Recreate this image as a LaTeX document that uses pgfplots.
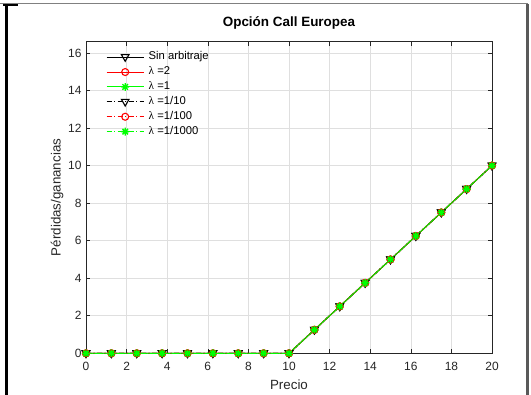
\documentclass[border=0pt]{standalone}
\usepackage{fontspec}
\setmainfont{Liberation Sans}
\newfontfamily\lamfont{Liberation Serif}
\usepackage{pgfplots}
\usepackage{pgfplotstable}
\pgfplotsset{compat=1.18}

\definecolor{axgray}{rgb}{0.15,0.15,0.15}
\definecolor{gridgray}{RGB}{223,223,223}
\definecolor{mgreen}{rgb}{0,1,0}
\definecolor{mred}{rgb}{1,0,0}

% eight-armed asterisk
\pgfdeclareplotmark{mstar}{%
  \pgfpathmoveto{\pgfqpoint{-\pgfplotmarksize}{0pt}}\pgfpathlineto{\pgfqpoint{\pgfplotmarksize}{0pt}}%
  \pgfpathmoveto{\pgfqpoint{0pt}{-\pgfplotmarksize}}\pgfpathlineto{\pgfqpoint{0pt}{\pgfplotmarksize}}%
  \pgfpathmoveto{\pgfqpoint{-0.7071\pgfplotmarksize}{-0.7071\pgfplotmarksize}}\pgfpathlineto{\pgfqpoint{0.7071\pgfplotmarksize}{0.7071\pgfplotmarksize}}%
  \pgfpathmoveto{\pgfqpoint{-0.7071\pgfplotmarksize}{0.7071\pgfplotmarksize}}\pgfpathlineto{\pgfqpoint{0.7071\pgfplotmarksize}{-0.7071\pgfplotmarksize}}%
  \pgfusepathqstroke}
% downward triangle
\pgfdeclareplotmark{vtri}{%
  \pgfpathmoveto{\pgfqpoint{0pt}{-\pgfplotmarksize}}%
  \pgfpathlineto{\pgfqpoint{0.9\pgfplotmarksize}{0.6\pgfplotmarksize}}%
  \pgfpathlineto{\pgfqpoint{-0.9\pgfplotmarksize}{0.6\pgfplotmarksize}}%
  \pgfpathclose\pgfusepathqstroke}

% payoff of the call, strike 10
\pgfplotstableread{
x      y
0      0
1.25   0
2.5    0
3.75   0
5      0
6.25   0
7.5    0
8.75   0
10     0
11.25  1.25
12.5   2.5
13.75  3.75
15     5
16.25  6.25
17.5   7.5
18.75  8.75
20     10
}\payoff

\begin{document}
\begin{tikzpicture}
\useasboundingbox (0,0) rectangle (531bp,395bp);
\fill[white] (0,0) rectangle (531bp,395bp);
% frame
\draw[gray, line width=1bp] (0,391bp) -- (528bp,391bp);
\draw[black!65, line width=2.5bp] (527.5bp,391bp) -- (527.5bp,0);
\draw[black, line width=2bp] (3bp,390bp) -- (18bp,390bp);
\draw[black, line width=3bp] (6.5bp,390bp) -- (6.5bp,0);

\begin{axis}[
  at={(86bp,41.7bp)}, anchor=south west,
  scale only axis, width=406bp, height=311.6bp,
  xmin=0, xmax=20, ymin=0, ymax=16.6,
  xtick={0,2,...,20}, ytick={0,2,...,16},
  tick align=inside, tick pos=both,
  major tick length=4bp,
  grid=major,
  major grid style={gridgray, line width=0.6bp},
  axis line style={axgray, line width=0.6bp},
  every tick/.style={axgray, line width=0.6bp},
  /pgf/number format/assume math mode=true,
  ticklabel style={font=\fontsize{12}{12}\selectfont, text=axgray},
  xticklabel style={yshift=-5bp},
  yticklabel style={xshift=-1bp},
  title={\textbf{Opción Call Europea}},
  title style={font=\fontsize{13.5}{13.5}\selectfont, at={(axis description cs:0.5,1)}, anchor=center, yshift=13bp},
  xlabel={Precio},
  xlabel style={font=\fontsize{13.4}{13.4}\selectfont, text=axgray, at={(axis description cs:0.5,0)}, anchor=center, yshift=-31.7bp},
  ylabel={Pérdidas/ganancias},
  ylabel style={font=\fontsize{13.4}{13.4}\selectfont, text=axgray, at={(axis description cs:0,0.5)}, anchor=center, yshift=29bp},
  legend image code/.code={\draw[mark repeat=2,mark phase=2,#1] plot coordinates {(0bp,0bp) (18.5bp,0bp) (37bp,0bp)};},
  legend cell align=left,
  legend style={draw=none, fill=none, at={(axis description cs:0,1)}, anchor=north west,
    xshift=20bp, yshift=-9bp, inner sep=0pt, row sep=2.4bp, column sep=3.5bp,
    font=\fontsize{11.3}{11.3}\selectfont,
    nodes={inner sep=1bp, text height=8bp, text depth=2.5bp}},
  every axis plot/.append style={line width=1bp},
]
\addplot[black, solid, mark=vtri, mark size=4.2bp, mark options={solid, line width=1.1bp}] table[x=x,y=y] {\payoff};
\addlegendentry{Sin arbitraje}
\addplot[mred, solid, mark=o, mark size=3.5bp, mark options={solid, line width=1.1bp}] table[x=x,y=y] {\payoff};
\addlegendentry{{\lamfont λ} =2}
\addplot[mgreen, solid, mark=mstar, mark size=3.9bp, mark options={solid, line width=1.4bp}] table[x=x,y=y] {\payoff};
\addlegendentry{{\lamfont λ} =1}
\addplot[black, dash pattern=on 5bp off 2.5bp on 1bp off 2.5bp, mark=vtri, mark size=4.2bp, mark options={solid, line width=1.1bp}] table[x=x,y=y] {\payoff};
\addlegendentry{{\lamfont λ} =1/10}
\addplot[mred, dash pattern=on 5bp off 2.5bp on 1bp off 2.5bp, mark=o, mark size=3.5bp, mark options={solid, line width=1.1bp}] table[x=x,y=y] {\payoff};
\addlegendentry{{\lamfont λ} =1/100}
\addplot[mgreen, dash pattern=on 5bp off 2.5bp on 1bp off 2.5bp, mark=mstar, mark size=3.9bp, mark options={solid, line width=1.4bp}] table[x=x,y=y] {\payoff};
\addlegendentry{{\lamfont λ} =1/1000}
\end{axis}
\end{tikzpicture}
\end{document}
